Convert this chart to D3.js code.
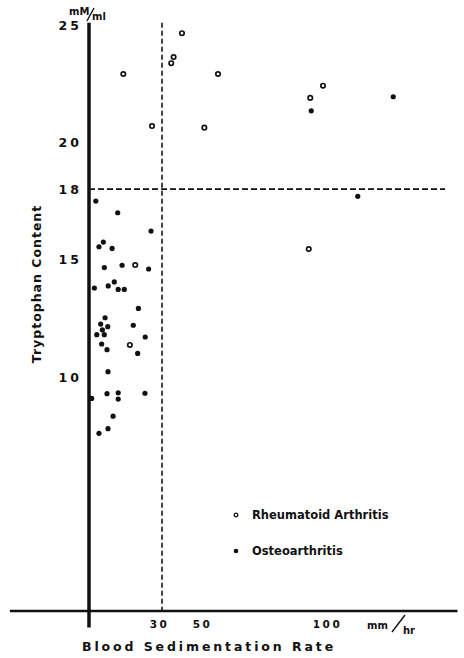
<!DOCTYPE html>
<html>
<head>
<meta charset="utf-8">
<script src="https://cdn.jsdelivr.net/npm/d3@7"></script>
<style>
  body { margin: 0; background: #fff; }
  svg text { font-family: "DejaVu Sans", sans-serif; fill: #111; font-weight: bold; }
</style>
</head>
<body>
<div id="chart"></div>
<script>
// Blood sedimentation rate (mm/hr) vs tryptophan content (mM/ml)
const rheumatoidX = [39.3, 35.4, 34.3, 14.1, 55.2, 25.9, 49.7, 97.2, 92.1, 91.5, 19.0, 16.8];
const rheumatoidY = [24.65, 23.63, 23.37, 22.91, 22.91, 20.69, 20.62, 22.41, 21.89, 15.44, 14.76, 11.35];

const osteoX = [2.8, 11.8, 25.5, 5.9, 4.1, 9.5, 6.3, 13.6, 24.5, 2.2, 7.9, 10.4, 12.0, 14.5,
  20.3, 6.6, 4.8, 7.7, 18.2, 5.5, 3.2, 6.3, 23.1, 5.2, 7.4, 20.0, 7.8, 1.1, 7.4, 12.0, 12.0,
  23.0, 9.9, 7.8, 4.1, 92.5, 125.3, 111.1];
const osteoY = [17.49, 16.99, 16.21, 15.74, 15.54, 15.47, 14.65, 14.75, 14.59, 13.78, 13.87, 14.04, 13.72, 13.72,
  12.91, 12.51, 12.24, 12.13, 12.19, 11.99, 11.79, 11.79, 11.69, 11.39, 11.15, 10.99, 10.21, 9.07, 9.27, 9.31, 9.04,
  9.29, 8.31, 7.78, 7.58, 21.34, 21.94, 17.69];

const yTicks = [10, 15, 18, 20, 25];
const xTicks = [30, 50, 100];
const legendLabels = ["Rheumatoid Arthritis", "Osteoarthritis"];
const xCut = 30, yCut = 18;

const width = 464, height = 658;

const svg = d3.select("#chart").append("svg")
  .attr("width", width)
  .attr("height", height);

// hand-drawn axis is not evenly spaced, so piecewise linear
const x = d3.scaleLinear().domain([0, 30, 50, 100]).range([89, 162, 205, 330]);
const y = d3.scaleLinear().domain([0, 25]).range([611, 25]);

// dashed reference lines
svg.append("line")
  .attr("x1", x(xCut)).attr("x2", x(xCut))
  .attr("y1", y(25.1)).attr("y2", y(0))
  .attr("stroke", "#111").attr("stroke-width", 1.6)
  .attr("stroke-dasharray", "5,3");
svg.append("line")
  .attr("x1", x(0)).attr("x2", x(146))
  .attr("y1", y(yCut)).attr("y2", y(yCut))
  .attr("stroke", "#111").attr("stroke-width", 1.6)
  .attr("stroke-dasharray", "6,3");

// axes
const yAxis = svg.append("g")
  .attr("transform", `translate(${x(0) - 7},0)`)
  .call(d3.axisLeft(y).tickValues(yTicks).tickSize(0).tickPadding(0));
yAxis.select(".domain").remove();
yAxis.selectAll("text")
  .attr("dy", "0.36em")
  .style("font-size", "12.5px")
  .style("font-family", "DejaVu Sans")
  .style("letter-spacing", "3px")
  .attr("fill", "#111");

const xAxis = svg.append("g")
  .attr("transform", `translate(0,${y(0)})`)
  .call(d3.axisBottom(x).tickValues(xTicks).tickSize(0).tickPadding(10));
xAxis.select(".domain").remove();
xAxis.selectAll("text")
  .attr("dx", -3)
  .style("font-size", "10.5px")
  .style("font-family", "DejaVu Sans")
  .style("letter-spacing", "2.5px")
  .attr("fill", "#111");

svg.append("line")
  .attr("x1", x(0)).attr("x2", x(0))
  .attr("y1", y(25.1)).attr("y2", y(-0.7))
  .attr("stroke", "#111").attr("stroke-width", 3.5);
svg.append("line")
  .attr("x1", x(-32.5)).attr("x2", x(151))
  .attr("y1", y(0)).attr("y2", y(0))
  .attr("stroke", "#111").attr("stroke-width", 2.5);

// unit labels
svg.append("text").attr("x", 69).attr("y", 15).text("mM")
  .style("font-size", "10px");
svg.append("line").attr("x1", 87).attr("y1", 21).attr("x2", 94).attr("y2", 8)
  .attr("stroke", "#111").attr("stroke-width", 1.4);
svg.append("text").attr("x", 92).attr("y", 20).text("ml")
  .style("font-size", "10px");

svg.append("text").attr("x", 367).attr("y", 629).text("mm")
  .style("font-size", "10px");
svg.append("line").attr("x1", 392).attr("y1", 632).attr("x2", 405).attr("y2", 615)
  .attr("stroke", "#111").attr("stroke-width", 1.4);
svg.append("text").attr("x", 403).attr("y", 634).text("hr")
  .style("font-size", "10px");

// axis titles
svg.append("text")
  .attr("transform", "translate(41,284) rotate(-90)")
  .attr("text-anchor", "middle")
  .style("font-size", "12.5px")
  .style("letter-spacing", "1px")
  .text("Tryptophan  Content");

svg.append("text")
  .attr("x", 209).attr("y", 651)
  .attr("text-anchor", "middle")
  .style("font-size", "12.5px")
  .style("letter-spacing", "2.9px")
  .text("Blood  Sedimentation  Rate");

// points
svg.append("g").selectAll("circle")
  .data(d3.zip(osteoX, osteoY))
  .join("circle")
  .attr("cx", d => x(d[0]))
  .attr("cy", d => y(d[1]))
  .attr("r", 2.6)
  .attr("fill", "#111");

svg.append("g").selectAll("circle")
  .data(d3.zip(rheumatoidX, rheumatoidY))
  .join("circle")
  .attr("cx", d => x(d[0]))
  .attr("cy", d => y(d[1]))
  .attr("r", 2.2)
  .attr("fill", "#fff")
  .attr("stroke", "#111")
  .attr("stroke-width", 1.7);

// legend
const legend = svg.append("g").attr("transform", "translate(236,515)");
legendLabels.forEach((label, i) => {
  const row = legend.append("g").attr("transform", `translate(0,${i * 36})`);
  if (i === 0) {
    row.append("circle").attr("r", 1.8).attr("fill", "#fff")
      .attr("stroke", "#111").attr("stroke-width", 1.3);
  } else {
    row.append("circle").attr("r", 2.3).attr("fill", "#111");
  }
  row.append("text")
    .attr("x", 16).attr("y", 4)
    .style("font-size", "11.5px")
    .text(label);
});
</script>
</body>
</html>
